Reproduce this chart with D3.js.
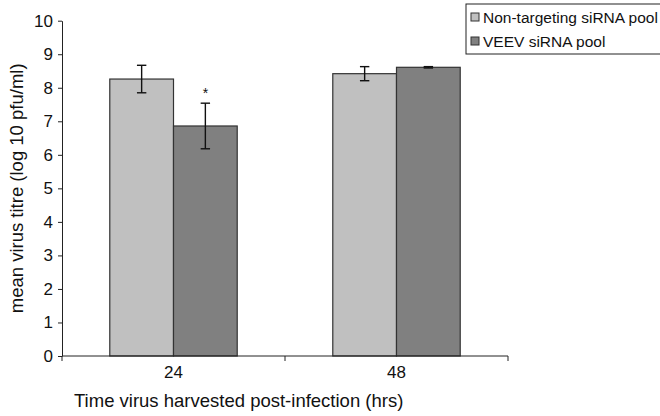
<!DOCTYPE html>
<html>
<head>
<meta charset="utf-8">
<script src="https://cdn.jsdelivr.net/npm/d3@7"></script>
<style>
  body { margin: 0; background: #fff; }
  svg { font-family: "Liberation Sans", Arial, sans-serif; }
</style>
</head>
<body>
<div id="chart"></div>
<script>
// data
const categories = ['24', '48'];
const series = ['Non-targeting siRNA pool', 'VEEV siRNA pool'];
const means = [[8.26, 6.86], [8.42, 8.61]]; // [category][series]
const errors = [[0.41, 0.68], [0.21, 0.02]];
const yTicks = [0, 1, 2, 3, 4, 5, 6, 7, 8, 9, 10];
const significant = [[false, true], [false, false]];

const colors = ['#c0c0c0', '#808080'];

const width = 660;
const height = 416;
const plot = {left: 62, right: 508, top: 20.7, bottom: 356};

const svg = d3.select('#chart').append('svg')
    .attr('width', width)
    .attr('height', height);

const x = d3.scaleBand()
    .domain(categories)
    .range([plot.left, plot.right]);

const xInner = d3.scaleBand()
    .domain(series)
    .range([0, x.bandwidth()])
    .paddingOuter(0.75);

const y = d3.scaleLinear()
    .domain([0, 10])
    .range([plot.bottom, plot.top]);

/**
 * BARS
 * */
const groups = svg.selectAll('g.group')
    .data(categories)
    .join('g')
    .attr('class', 'group')
    .attr('transform', d => `translate(${x(d)},0)`);

groups.selectAll('rect')
    .data((d, i) => series.map((s, j) => ({s, j, v: means[i][j]})))
    .join('rect')
    .attr('x', d => xInner(d.s))
    .attr('y', d => y(d.v))
    .attr('width', xInner.bandwidth())
    .attr('height', d => y(0) - y(d.v))
    .attr('fill', d => colors[d.j])
    .attr('stroke', '#333')
    .attr('stroke-width', 1.2);

// error bars
const errData = (d, i) => series.map((s, j) => ({
    cx: xInner(s) + xInner.bandwidth() / 2,
    hi: means[i][j] + errors[i][j],
    lo: means[i][j] - errors[i][j],
    star: significant[i][j],
}));

const err = groups.selectAll('g.err')
    .data(errData)
    .join('g')
    .attr('class', 'err')
    .attr('stroke', '#111')
    .attr('stroke-width', 1.4);

err.append('line')
    .attr('x1', d => d.cx).attr('x2', d => d.cx)
    .attr('y1', d => y(d.hi)).attr('y2', d => y(d.lo));
err.append('line')
    .attr('x1', d => d.cx - 4.7).attr('x2', d => d.cx + 4.7)
    .attr('y1', d => y(d.hi)).attr('y2', d => y(d.hi));
err.append('line')
    .attr('x1', d => d.cx - 4.7).attr('x2', d => d.cx + 4.7)
    .attr('y1', d => y(d.lo)).attr('y2', d => y(d.lo));

groups.selectAll('text.star')
    .data((d, i) => errData(d, i).filter(e => e.star))
    .join('text')
    .attr('class', 'star')
    .attr('x', d => d.cx)
    .attr('y', d => y(d.hi) - 5)
    .attr('text-anchor', 'middle')
    .attr('font-size', 14)
    .attr('fill', '#111')
    .text('*');

/**
 * AXES
 * */
const yAxis = svg.append('g')
    .attr('transform', `translate(${plot.left},0)`)
    .call(d3.axisLeft(y).tickValues(yTicks).tickSize(4).tickPadding(5).tickSizeOuter(0));
yAxis.select('.domain').attr('stroke', '#222');
yAxis.selectAll('.tick line').attr('stroke', '#222');
yAxis.selectAll('.tick text')
    .attr('font-size', 17)
    .attr('font-family', '"Liberation Sans", Arial, sans-serif')
    .attr('fill', '#111');

// x axis: Excel-style ticks at the category boundaries
const xAxis = svg.append('g').attr('class', 'x-axis');
xAxis.append('line')
    .attr('x1', plot.left).attr('x2', plot.right)
    .attr('y1', y(0)).attr('y2', y(0))
    .attr('stroke', '#222');
const boundaries = categories.map(c => x(c)).concat([x(categories[categories.length - 1]) + x.bandwidth()]);
xAxis.selectAll('line.tick')
    .data(boundaries)
    .join('line')
    .attr('class', 'tick')
    .attr('x1', d => d).attr('x2', d => d)
    .attr('y1', y(0)).attr('y2', y(0) + 5)
    .attr('stroke', '#222');
xAxis.selectAll('text')
    .data(categories)
    .join('text')
    .attr('x', d => x(d) + x.bandwidth() / 2)
    .attr('y', y(0) + 22)
    .attr('text-anchor', 'middle')
    .attr('font-size', 17)
    .attr('fill', '#111')
    .text(d => d);

// axis titles
svg.append('text')
    .attr('x', 74)
    .attr('y', 407)
    .attr('font-size', 18.5)
    .attr('fill', '#111')
    .text('Time virus harvested post-infection (hrs)');

svg.append('text')
    .attr('transform', `translate(23,${(plot.top + plot.bottom) / 2}) rotate(-90)`)
    .attr('text-anchor', 'middle')
    .attr('font-size', 18.5)
    .attr('fill', '#111')
    .text('mean virus titre (log 10 pfu/ml)');

/**
 * LEGEND
 * */
const legend = svg.append('g').attr('transform', 'translate(466,4)');
legend.append('rect')
    .attr('x', 0).attr('y', 0)
    .attr('width', 200).attr('height', 50)
    .attr('fill', '#fff')
    .attr('stroke', '#222');
const items = legend.selectAll('g.item')
    .data(series)
    .join('g')
    .attr('class', 'item')
    .attr('transform', (d, i) => `translate(5,${13 + i * 24})`);
items.append('rect')
    .attr('x', 0).attr('y', -4)
    .attr('width', 8).attr('height', 8)
    .attr('fill', (d, i) => colors[i])
    .attr('stroke', '#333');
items.append('text')
    .attr('x', 12)
    .attr('y', 5.5)
    .attr('font-size', 15.5)
    .attr('fill', '#111')
    .text(d => d);
</script>
</body>
</html>
